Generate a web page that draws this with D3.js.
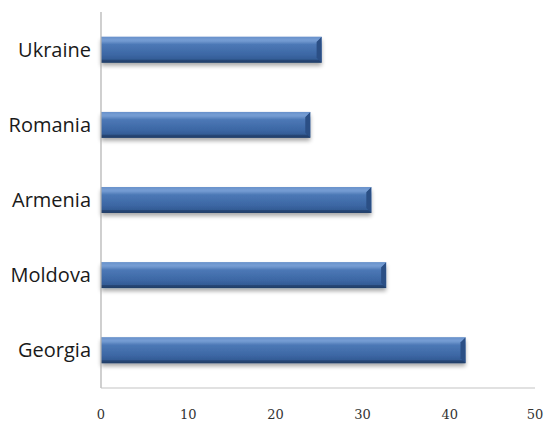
<!DOCTYPE html>
<html>
<head>
<meta charset="utf-8">
<script src="https://cdnjs.cloudflare.com/ajax/libs/d3/7.8.5/d3.min.js"></script>
<style>
  html, body { margin: 0; padding: 0; background: #fff; }
  svg { display: block; }
</style>
</head>
<body>
<svg id="chart" width="544" height="421"></svg>
<script>
// Countries, top to bottom
const countries = ["Ukraine", "Romania", "Armenia", "Moldova", "Georgia"];
// Values per country
const values = [25.3, 24.0, 31.0, 32.7, 41.8];
// X axis ticks
const xTicks = [0, 10, 20, 30, 40, 50];

const svg = d3.select("#chart");
const margin = { left: 101, right: 544 - 536, top: 12, bottom: 421 - 388 };
const W = 544, H = 421;

const x = d3.scaleLinear().domain([0, 50]).range([margin.left, W - margin.right + 1]);
const y = d3.scaleBand().domain(countries).range([margin.top, H - margin.bottom]).paddingInner(0.655).paddingOuter(0.33);

const defs = svg.append("defs");
const grad = defs.append("linearGradient").attr("id", "barGrad")
  .attr("x1", 0).attr("y1", 0).attr("x2", 0).attr("y2", 1);
[[0, "#5e88c4"], [0.12, "#7ea4d8"], [0.3, "#4c78b6"], [0.7, "#3c67a4"], [0.9, "#325a93"], [1, "#24436f"]]
  .forEach(([o, c]) => grad.append("stop").attr("offset", o).attr("stop-color", c));

const shadow = defs.append("filter").attr("id", "shadow").attr("x", "-5%").attr("y", "-30%").attr("width", "110%").attr("height", "180%");
shadow.append("feGaussianBlur").attr("in", "SourceAlpha").attr("stdDeviation", 2);
shadow.append("feOffset").attr("dx", 0).attr("dy", 3).attr("result", "off");
shadow.append("feComponentTransfer").append("feFuncA").attr("type", "linear").attr("slope", 0.35);
const merge = shadow.append("feMerge");
merge.append("feMergeNode");
merge.append("feMergeNode").attr("in", "SourceGraphic");

const data = countries.map((c, i) => ({ c, v: values[i] }));

// Bars with a bevelled right end
const bars = svg.append("g").selectAll("g").data(data).join("g");
bars.append("rect")
  .attr("x", x(0))
  .attr("y", d => y(d.c))
  .attr("width", d => x(d.v) - x(0))
  .attr("height", y.bandwidth())
  .attr("fill", "url(#barGrad)")
  .attr("filter", "url(#shadow)");
const bev = 5;
bars.append("path")
  .attr("d", d => {
    const x1 = x(d.v), y0 = y(d.c), h = y.bandwidth();
    return `M${x1 - bev},${y0 + bev} L${x1},${y0} L${x1},${y0 + h} L${x1 - bev},${y0 + h - bev} Z`;
  })
  .attr("fill", "#2b4f85");
bars.append("path")
  .attr("d", d => {
    const x1 = x(d.v), y0 = y(d.c);
    return `M${x(0)},${y0} L${x1},${y0} L${x1 - bev},${y0 + bev} L${x(0)},${y0 + bev} Z`;
  })
  .attr("fill", "#6f98d0").attr("opacity", 0.55);
bars.append("path")
  .attr("d", d => {
    const x1 = x(d.v), y0 = y(d.c), h = y.bandwidth();
    return `M${x(0)},${y0 + h - 3} L${x1 - 3},${y0 + h - 3} L${x1},${y0 + h} L${x(0)},${y0 + h} Z`;
  })
  .attr("fill", "#1f3a62").attr("opacity", 0.6);

// Axis lines
svg.append("line")
  .attr("x1", x(0)).attr("x2", x(0))
  .attr("y1", margin.top).attr("y2", H - margin.bottom)
  .attr("stroke", "#b0b0b0").attr("stroke-width", 1.2);
svg.append("line")
  .attr("x1", x(0)).attr("x2", x(50) - 2)
  .attr("y1", H - margin.bottom).attr("y2", H - margin.bottom)
  .attr("stroke", "#c4c4c4").attr("stroke-width", 1.2);

// Category labels
svg.append("g").selectAll("text").data(countries).join("text")
  .attr("x", 91)
  .attr("y", d => y(d) + y.bandwidth() / 2)
  .attr("dy", "0.36em")
  .attr("text-anchor", "end")
  .attr("font-family", "'Open Sans', sans-serif")
  .attr("font-size", 20)
  .attr("fill", "#1a1a1a")
  .text(d => d);

// Tick labels (the last one is kept inside the right edge)
svg.append("g").selectAll("text").data(xTicks).join("text")
  .attr("x", d => Math.min(x(d), W - 9))
  .attr("y", 418.5)
  .attr("text-anchor", "middle")
  .attr("font-family", "'DejaVu Serif', serif")
  .attr("font-size", 13)
  .attr("fill", "#333")
  .text(d => d);
</script>
</body>
</html>
